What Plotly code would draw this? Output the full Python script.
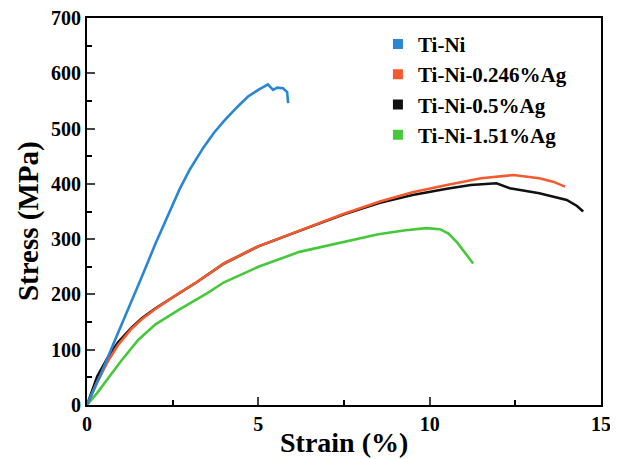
import plotly.graph_objects as go

names = ["Ti-Ni", "Ti-Ni-0.246%Ag", "Ti-Ni-0.5%Ag", "Ti-Ni-1.51%Ag"]
colors = ["#2a86d4", "#f45a2e", "#111111", "#45c83a"]

tini_x = [0, 0.4, 0.8, 1.2, 1.6, 2.0, 2.4, 2.7, 3.0, 3.4, 3.7, 4.0, 4.4, 4.7, 5.0, 5.28, 5.43, 5.55, 5.72, 5.84, 5.87]
tini_y = [0, 55, 115, 172, 232, 292, 348, 390, 426, 466, 492, 514, 540, 558, 570, 580, 570, 574, 573, 566, 546]

ag0246_x = [0, 0.3, 0.6, 0.9, 1.3, 1.6, 2.0, 2.7, 3.2, 4.0, 5.0, 6.2, 7.5, 8.55, 9.5, 10.5, 11.5, 12.44, 13.2, 13.6, 13.95]
ag0246_y = [0, 42, 78, 108, 138, 155, 174, 203, 222, 256, 287, 316, 346, 368, 385, 398, 410, 416, 410, 404, 395]

ag05_x = [0, 0.3, 0.6, 0.9, 1.3, 1.6, 2.0, 2.7, 3.2, 4.0, 5.0, 6.2, 7.5, 8.55, 9.5, 10.5, 11.2, 11.95, 12.34, 13.2, 14.0, 14.3, 14.48]
ag05_y = [0, 52, 85, 113, 140, 157, 175, 203, 222, 256, 287, 315, 345, 366, 380, 391, 398, 401, 392, 383, 371, 360, 350]

ag151_x = [0, 0.3, 0.6, 1.0, 1.5, 2.0, 2.7, 3.5, 4.0, 5.0, 6.2, 7.5, 8.5, 9.3, 9.9, 10.3, 10.55, 10.8, 11.0, 11.27]
ag151_y = [0, 22, 47, 80, 118, 146, 173, 202, 222, 250, 277, 295, 309, 316, 320, 318, 310, 294, 278, 256]

x_ticks = [0, 5, 10, 15]
y_ticks = [0, 100, 200, 300, 400, 500, 600, 700]
x_title = "Strain (%)"
y_title = "Stress (MPa)"

series = [(tini_x, tini_y), (ag0246_x, ag0246_y), (ag05_x, ag05_y), (ag151_x, ag151_y)]

fig = go.Figure()
for i in [3, 2, 1, 0]:
    xs, ys = series[i]
    fig.add_trace(go.Scatter(x=xs, y=ys, mode="lines", line=dict(color=colors[i], width=2.6),
                             showlegend=False, hoverinfo="skip"))
for i in range(4):
    fig.add_trace(go.Scatter(x=[None], y=[None], mode="markers", name="<b>" + names[i] + "</b>",
                             marker=dict(symbol="square", size=10, color=colors[i])))

ff = "Liberation Serif"
# the page body has an 8px margin, so the figure is 8px smaller than the window
fig.update_layout(
    width=610, height=451,
    margin=dict(l=79, r=17, t=10, b=54),
    paper_bgcolor="white", plot_bgcolor="white",
    font=dict(family=ff, size=20, color="black"),
    legend=dict(x=0.566, y=0.985, xanchor="left", yanchor="top", bgcolor="rgba(0,0,0,0)",
                font=dict(family=ff, size=21, color="black"),
                itemwidth=30, tracegroupgap=0),
    showlegend=True,
    annotations=[
        dict(text="<b>" + x_title + "</b>", xref="paper", yref="paper", x=0.5, y=-0.098,
             xanchor="center", yanchor="middle", showarrow=False, font=dict(family=ff, size=28)),
        dict(text="<b>" + y_title + "</b>", xref="paper", yref="paper", x=-0.115, y=0.475,
             xanchor="center", yanchor="middle", showarrow=False, textangle=-90,
             font=dict(family=ff, size=29)),
    ],
)
fig.update_xaxes(range=[0, 15], tickvals=x_ticks, ticktext=["<b>%d</b>" % v for v in x_ticks],
                 ticks="inside", ticklen=8, tickwidth=2, automargin=False, ticklabeloverflow="allow",
                 showline=True, linewidth=2, linecolor="black", mirror=True, showgrid=False,
                 zeroline=False,
                 minor=dict(dtick=2.5, ticks="inside", ticklen=5, tickwidth=2, tickcolor="black"),
                 tickfont=dict(size=20, family=ff))
fig.update_yaxes(range=[0, 700], tickvals=y_ticks, ticktext=["<b>%d</b>" % v for v in y_ticks],
                 ticks="inside", ticklen=8, tickwidth=2, automargin=False, ticklabeloverflow="allow",
                 showline=True, linewidth=2, linecolor="black", mirror=True, showgrid=False,
                 zeroline=False,
                 minor=dict(dtick=50, ticks="inside", ticklen=5, tickwidth=2, tickcolor="black"),
                 tickfont=dict(size=20, family=ff))

fig.write_html("out.html")
